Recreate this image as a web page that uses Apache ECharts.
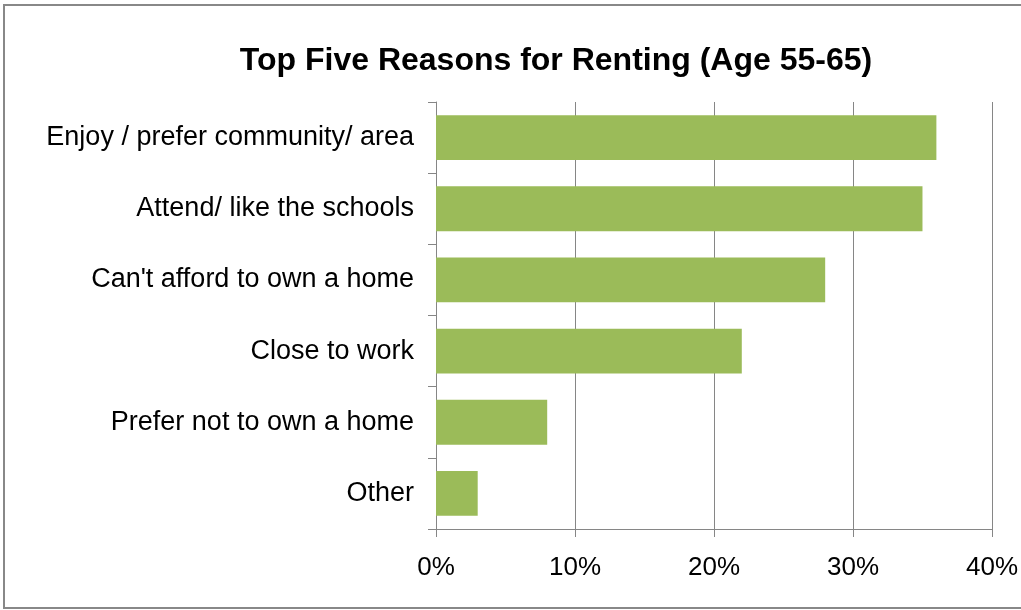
<!DOCTYPE html>
<html>
<head>
<meta charset="utf-8">
<script src="https://cdn.jsdelivr.net/npm/echarts@6/dist/echarts.min.js"></script>
<style>
  html, body { margin: 0; padding: 0; background: #fff; }
  #chart { width: 1021px; height: 610px; }
</style>
</head>
<body>
<div id="chart"></div>
<script>
// Reasons for renting, ages 55-65 (share of respondents, %)
const reasons = [
  'Enjoy / prefer community/ area',
  'Attend/ like the schools',
  "Can't afford to own a home",
  'Close to work',
  'Prefer not to own a home',
  'Other'
];
const shares = [36, 35, 28, 22, 8, 3];
const axisTicks = [0, 10, 20, 30, 40];

const chart = echarts.init(document.getElementById('chart'), null, { renderer: 'canvas' });
const font = '"Liberation Sans", Arial, sans-serif';
const grey = '#868686';

chart.setOption({
  animation: false,
  backgroundColor: '#fff',
  title: {
    text: 'Top Five Reasons for Renting (Age 55-65)',
    left: 551, top: 40, textAlign: 'center',
    textStyle: { fontFamily: font, fontSize: 32, fontWeight: 'bold', color: '#000' }
  },
  graphic: [{
    type: 'rect', silent: true,
    shape: { x: 4, y: 5, width: 1030, height: 603 },
    style: { fill: 'none', stroke: '#888', lineWidth: 2 }
  }],
  grid: { left: 436, width: 560, top: 102, height: 427 },
  xAxis: {
    type: 'value',
    min: axisTicks[0], max: axisTicks[axisTicks.length - 1], interval: 10,
    axisLine: { show: true, lineStyle: { color: grey, width: 1 } },
    axisTick: { show: true, length: 8, lineStyle: { color: grey } },
    splitLine: { show: true, lineStyle: { color: grey, width: 1 } },
    axisLabel: {
      formatter: '{value}%', margin: 26,
      fontFamily: font, fontSize: 26, color: '#000'
    }
  },
  yAxis: {
    type: 'category',
    data: reasons,
    inverse: true,
    axisLine: { show: true, lineStyle: { color: grey, width: 1 } },
    axisTick: { show: true, length: 8, lineStyle: { color: grey } },
    splitLine: { show: false },
    axisLabel: { margin: 22, fontFamily: font, fontSize: 27, color: '#000' }
  },
  series: [{
    type: 'bar',
    data: shares,
    barCategoryGap: '37%',
    itemStyle: { color: '#9BBB59' }
  }]
});
</script>
</body>
</html>
